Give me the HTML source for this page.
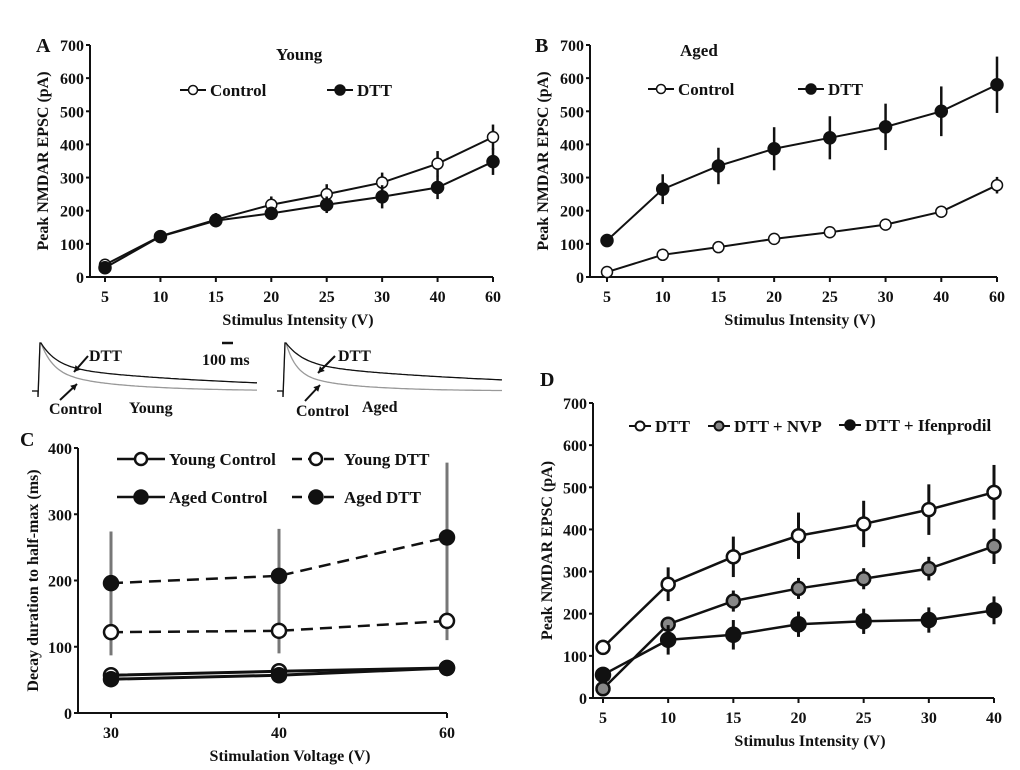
<!DOCTYPE html>
<html><head><meta charset="utf-8"><style>
body{margin:0;background:#fff;}
svg text{font-family:"Liberation Serif",serif;font-weight:bold;fill:#111;}
</style></head><body>
<svg id="fig" width="1020" height="765" viewBox="0 0 1020 765" xmlns="http://www.w3.org/2000/svg"></svg>
<script>
// ---- Panel A data ----
const aCats=["5","10","15","20","25","30","40","60"];
const aControl=[37,123,173,218,250,285,342,422];
const aControlErr=[8,15,20,25,30,30,38,38];
const aDTT=[28,122,170,192,218,242,270,348];
const aDTTErr=[8,15,20,20,25,35,35,40];
// ---- Panel B data ----
const bCats=["5","10","15","20","25","30","40","60"];
const bControl=[15,67,90,115,135,158,197,277];
const bControlErr=[10,8,8,8,8,10,15,25];
const bDTT=[110,265,335,387,420,453,500,580];
const bDTTErr=[20,45,55,65,65,70,75,85];
// ---- Panel C data ----
const cCats=["30","40","60"];
const cYoungControl=[57,63,68];
const cAgedControl=[51,57,68];
const cYoungDTT=[122,124,139];
const cYoungDTTErr=[35,34,29];
const cAgedDTT=[196,207,265];
const cAgedDTTErr=[78,71,113];
// ---- Panel D data ----
const dCats=["5","10","15","20","25","30","40"];
const dDTT=[120,270,335,385,413,447,488];
const dDTTErr=[18,40,48,55,55,60,65];
const dNVP=[22,175,230,260,283,307,360];
const dNVPErr=[10,15,25,25,25,28,42];
const dIfen=[55,138,150,175,182,185,208];
const dIfenErr=[12,35,35,30,30,30,33];
const yTicks700=[0,100,200,300,400,500,600,700];
const yTicks400=[0,100,200,300,400];

const NS="http://www.w3.org/2000/svg";
const svg=document.getElementById('fig');
function el(tag,attrs,parent,text){const e=document.createElementNS(NS,tag);for(const k in attrs)e.setAttribute(k,attrs[k]);if(text!==undefined)e.textContent=text;(parent||svg).appendChild(e);return e;}

function makeAxes(p,name){
  const g=el('g',{});
  
  
  const xs=i=>p.x0+i*(p.x1-p.x0)/(p.cats.length-1);
  const ys=v=>p.yb-(v/p.ymax)*(p.yb-p.yt);
  el('line',{x1:p.ax,y1:p.yt,x2:p.ax,y2:p.yb,stroke:'#111','stroke-width':2},g);
  el('line',{x1:p.axs,y1:p.yb,x2:p.x1,y2:p.yb,stroke:'#111','stroke-width':2},g);
  p.yticks.forEach(v=>{
    el('line',{x1:p.ax-4,y1:ys(v),x2:p.ax,y2:ys(v),stroke:'#111','stroke-width':2},g);
    const t=el('text',{x:p.ax-6,y:ys(v)+6,'text-anchor':'end','font-size':16},g,v);
    
    
  });
  p.cats.forEach((c,i)=>{
    el('line',{x1:xs(i),y1:p.yb,x2:xs(i),y2:p.yb+5,stroke:'#111','stroke-width':2},g);
    const t=el('text',{x:xs(i),y:p.yb+25,'text-anchor':'middle','font-size':16},g,c);
    
    
  });
  const xt=el('text',{x:p.xtx,y:p.yb+48,'text-anchor':'middle','font-size':16},g,p.xtitle);
  
  
  const yc=(p.yt+p.yb)/2;
  const yt=el('text',{x:p.ytx,y:yc,'text-anchor':'middle','font-size':16,transform:`rotate(-90 ${p.ytx} ${yc})`},g,p.ytitle);
  
  
  return {xs,ys,g};
}
function series(ax,vals,errs,opt,name){
  const g=el('g',{},ax.g);
  
  
  if(errs) vals.forEach((v,i)=>{
    el('line',{x1:ax.xs(i),y1:ax.ys(v-errs[i]),x2:ax.xs(i),y2:ax.ys(v+errs[i]),stroke:opt.errColor||'#111','stroke-width':opt.errW||2.5},g);
  });
  el('polyline',{points:vals.map((v,i)=>ax.xs(i)+','+ax.ys(v)).join(' '),fill:'none',stroke:'#111','stroke-width':opt.lw||2,'stroke-dasharray':opt.dash||'none'},g);
  vals.forEach((v,i)=>{
    const c=el('circle',{cx:ax.xs(i),cy:ax.ys(v),r:opt.r,fill:opt.fill,stroke:'#111','stroke-width':opt.sw||1.5},g);
    
    
  });
}
function legendEntry(x,y,len,opt,label,fs){
  const g=el('g',{});
  
  
  el('line',{x1:x,y1:y,x2:x+len,y2:y,stroke:'#111','stroke-width':opt.lw||2,'stroke-dasharray':opt.dash||'none'},g);
  el('circle',{cx:x+len/2,cy:y,r:opt.r,fill:opt.fill,stroke:'#111','stroke-width':opt.sw||1.5},g);
  el('text',{x:x+len+4,y:y+6,'font-size':fs||17},g,label);
}
function label(x,y,t,name,fs){const e=el('text',{x,y,'font-size':fs||20},svg,t);}

// Panel A
const A=makeAxes({ax:90,axs:90,yt:45,yb:277,ymax:700,x0:105,x1:493,cats:aCats,yticks:yTicks700,xtitle:'Stimulus Intensity (V)',xtx:298,ytitle:'Peak NMDAR  EPSC (pA)',ytx:48},'panel-a');
series(A,aControl,aControlErr,{r:5.5,fill:'#fff'},'a-control');
series(A,aDTT,aDTTErr,{r:6,fill:'#111'},'a-dtt');
label(36,52,'A','panel-a-label');
label(276,60,'Young','panel-a-title',17);
legendEntry(180,90,26,{r:4.5,fill:'#fff'},'Control');
legendEntry(327,90,26,{r:5,fill:'#111'},'DTT');

// Panel B
const B=makeAxes({ax:590,axs:590,yt:45,yb:277,ymax:700,x0:607,x1:997,cats:bCats,yticks:yTicks700,xtitle:'Stimulus Intensity (V)',xtx:800,ytitle:'Peak NMDAR  EPSC (pA)',ytx:548},'panel-b');
series(B,bControl,bControlErr,{r:5.5,fill:'#fff'},'b-control');
series(B,bDTT,bDTTErr,{r:6,fill:'#111'},'b-dtt');
label(535,52,'B','panel-b-label');
label(680,56,'Aged','panel-b-title',17);
legendEntry(648,89,26,{r:4.5,fill:'#fff'},'Control');
legendEntry(798,89,26,{r:5,fill:'#111'},'DTT');

// Traces
function trace(x0,xEnd,base,tauFast,tauSlow,frac,color,name){
  let d=`M${x0-6},${base} L${x0},${base} L${x0},${base+6} L${x0+2},${base-48} `;
  for(let x=x0+3;x<=xEnd;x+=2){const t=x-x0-3;const a=48*(frac*Math.exp(-t/tauFast)+(1-frac)*Math.exp(-t/tauSlow));d+=`L${x},${(base-a).toFixed(1)} `;}
  const p=el('path',{d,fill:'none',stroke:color,'stroke-width':1.3});
  
}
trace(38,258,391,12,70,0.6,'#999','young-control-trace');
trace(38,258,391,16,200,0.5,'#111','young-dtt-trace');
trace(283,503,391,10,60,0.65,'#999','aged-control-trace');
trace(283,503,391,18,250,0.45,'#111','aged-dtt-trace');
el('line',{x1:222,y1:343,x2:233,y2:343,stroke:'#111','stroke-width':2.5});
label(202,365,'100 ms','scale-bar-label',16);
label(89,361,'DTT','trace-dtt-label',16);label(338,361,'DTT','trace-dtt-label-aged',16);
label(49,414,'Control','trace-control-label',16);label(129,413,'Young','trace-young-label',16);
label(296,416,'Control','trace-control-label-aged',16);label(362,412,'Aged','trace-aged-label',16);
[[88,356,74,372],[335,356,318,373],[60,400,77,384],[305,401,320,385]].forEach(a=>{
  el('line',{x1:a[0],y1:a[1],x2:a[2],y2:a[3],stroke:'#111','stroke-width':2});
  const ang=Math.atan2(a[3]-a[1],a[2]-a[0]);const L=7;
  const p1=[a[2]-L*Math.cos(ang-0.5),a[3]-L*Math.sin(ang-0.5)],p2=[a[2]-L*Math.cos(ang+0.5),a[3]-L*Math.sin(ang+0.5)];
  el('polygon',{points:`${a[2]},${a[3]} ${p1} ${p2}`,fill:'#111'});
});

// Panel C
const C=makeAxes({ax:78,axs:75,yt:448,yb:713,ymax:400,x0:111,x1:447,cats:cCats,yticks:yTicks400,xtitle:'Stimulation Voltage (V)',xtx:290,ytitle:'Decay duration to half-max (ms)',ytx:38},'panel-c');
series(C,cAgedDTT,cAgedDTTErr,{r:7.5,fill:'#111',dash:'12 7',lw:2.5,errColor:'#777',errW:3},'c-aged-dtt');
series(C,cYoungDTT,cYoungDTTErr,{r:7,fill:'#fff',dash:'12 7',lw:2.5,sw:2.5,errColor:'#777',errW:3},'c-young-dtt');
series(C,cYoungControl,null,{r:7,fill:'#fff',sw:2.5,lw:3},'c-young-control');
series(C,cAgedControl,null,{r:7.5,fill:'#111',lw:3},'c-aged-control');
label(20,446,'C','panel-c-label');
legendEntry(117,459,48,{r:6,fill:'#fff',sw:2.5,lw:2.5},'Young Control',17);
legendEntry(292,459,48,{r:6,fill:'#fff',sw:2.5,lw:2.5,dash:'10 6'},'Young DTT',17);
legendEntry(117,497,48,{r:7,fill:'#111',lw:2.5},'Aged Control',17);
legendEntry(292,497,48,{r:7,fill:'#111',lw:2.5,dash:'10 6'},'Aged DTT',17);

// Panel D
const D=makeAxes({ax:593,axs:590,yt:403,yb:698,ymax:700,x0:603,x1:994,cats:dCats,yticks:yTicks700,xtitle:'Stimulus Intensity (V)',xtx:810,ytitle:'Peak NMDAR  EPSC (pA)',ytx:552},'panel-d');
series(D,dDTT,dDTTErr,{r:6.5,fill:'#fff',lw:2.5,sw:2.5,errW:3},'d-dtt');
series(D,dNVP,dNVPErr,{r:6.5,fill:'#888',lw:2.5,sw:2.5,errW:3},'d-dtt-nvp');
series(D,dIfen,dIfenErr,{r:7.5,fill:'#111',lw:2.5,errW:3},'d-dtt-ifenprodil');
label(540,386,'D','panel-d-label');
legendEntry(629,426,22,{r:4.5,fill:'#fff',sw:2},'DTT',17);
legendEntry(708,426,22,{r:4.5,fill:'#888',sw:2},'DTT + NVP',17);
legendEntry(839,425,22,{r:5,fill:'#111'},'DTT + Ifenprodil',17);
</script>
</body></html>
